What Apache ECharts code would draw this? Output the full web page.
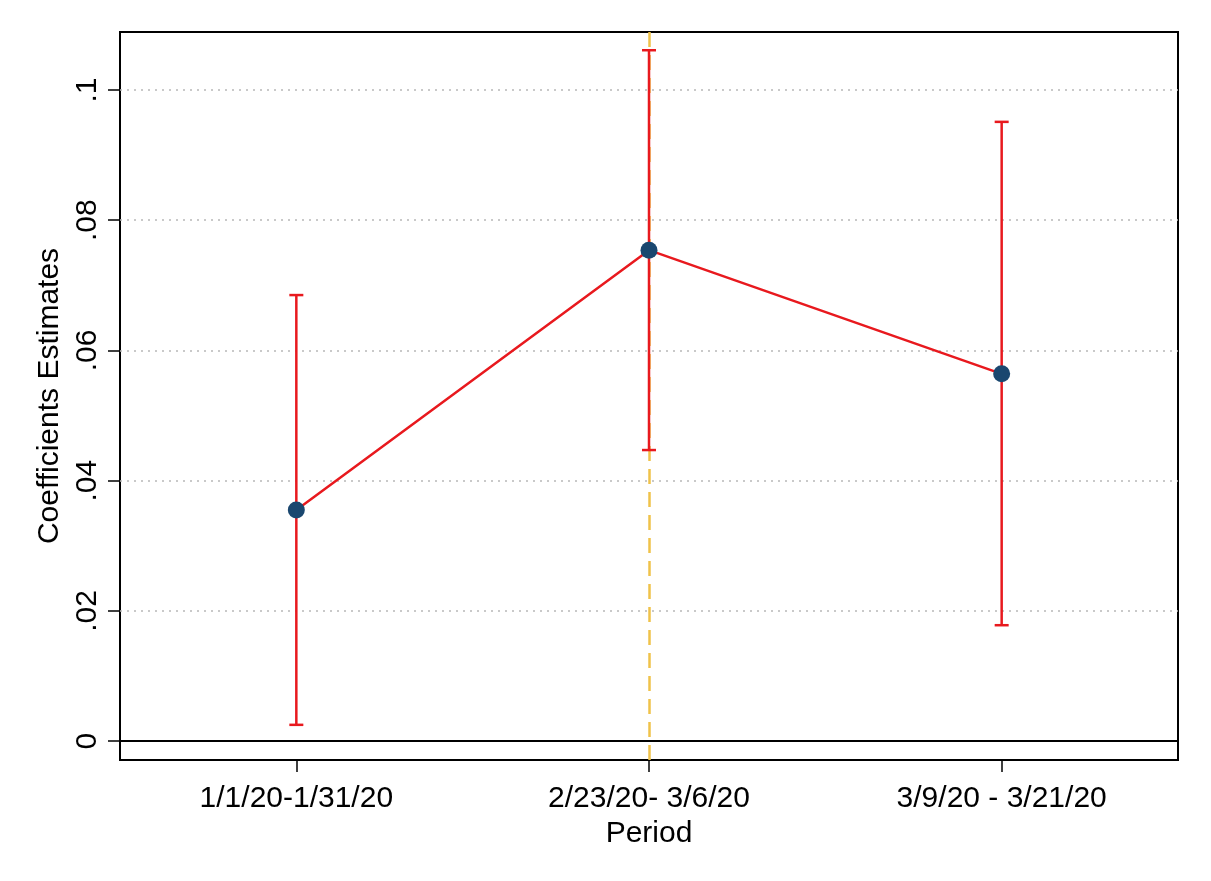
<!DOCTYPE html>
<html><head><meta charset="utf-8">
<script src="https://cdn.jsdelivr.net/npm/echarts@6/dist/echarts.min.js"></script>
<style>html,body{margin:0;padding:0;background:#fff}#c{width:1211px;height:881px}</style>
</head><body><div id="c"></div>
<script>
var categories = ['1/1/20-1/31/20', '2/23/20- 3/6/20', '3/9/20 - 3/21/20'];
var positions = [1, 2, 3];
var estimates = [0.0355, 0.0754, 0.0564];
var ciLower = [0.0025, 0.0447, 0.0178];
var ciUpper = [0.0685, 0.1061, 0.0951];
var yTicks = [0, 0.02, 0.04, 0.06, 0.08, 0.1];
var yTickLabels = ['0', '.02', '.04', '.06', '.08', '.1'];
var eventPosition = 2;

var FONT = 'Liberation Sans, Arial, sans-serif';
var RED = '#e8191e';
var chart = echarts.init(document.getElementById('c'));

var lineData = positions.map(function (p, i) { return [p, estimates[i]]; });
var ciData = positions.map(function (p, i) { return [p, ciLower[i], ciUpper[i]]; });

chart.setOption({
  animation: false,
  grid: { left: 120, right: 33, top: 32, bottom: 121, show: true, borderColor: '#000', borderWidth: 2, backgroundColor: 'transparent' },
  xAxis: {
    type: 'value', min: 0.5, max: 3.5,
    name: 'Period', nameLocation: 'middle', nameGap: 57,
    nameTextStyle: { fontFamily: FONT, fontSize: 30, color: '#000' },
    axisLine: { show: true, onZero: false, lineStyle: { color: '#000', width: 2 } },
    axisTick: { show: true, customValues: positions, length: 12, lineStyle: { color: '#000', width: 1.5 } },
    axisLabel: {
      customValues: positions, margin: 24, fontFamily: FONT, fontSize: 30, color: '#000',
      formatter: function (v) { var i = positions.indexOf(v); return i >= 0 ? categories[i] : ''; }
    },
    splitLine: { show: false }
  },
  yAxis: {
    type: 'value', min: -0.0029, max: 0.1089,
    name: 'Coefficients Estimates', nameLocation: 'middle', nameGap: 50, nameRotate: 90,
    nameTextStyle: { fontFamily: FONT, fontSize: 30, color: '#000' },
    axisLine: { show: true, onZero: false, lineStyle: { color: '#000', width: 2 } },
    axisTick: { show: true, customValues: yTicks, length: 12, lineStyle: { color: '#000', width: 1.5 } },
    axisLabel: {
      customValues: yTicks, rotate: 90, margin: 17, align: 'center', verticalAlign: 'bottom',
      fontFamily: FONT, fontSize: 30, color: '#000',
      formatter: function (v) {
        for (var i = 0; i < yTicks.length; i++) { if (Math.abs(yTicks[i] - v) < 1e-9) return yTickLabels[i]; }
        return '';
      }
    },
    splitLine: { show: false }
  },
  series: [
    {
      type: 'line', data: [], silent: true, z: 1,
      markLine: {
        z: 1, silent: true, symbol: 'none', label: { show: false }, animation: false,
        data: yTicks.filter(function (t) { return t > 0; }).map(function (t) {
          return { yAxis: t, lineStyle: { color: '#b8b8b8', type: [2, 5], width: 1.5 } };
        }).concat([
          { xAxis: eventPosition, lineStyle: { color: '#f0c24a', type: [15, 8], width: 2.5 } }
        ])
      }
    },
    {
      type: 'custom', z: 6, silent: true,
      data: ciData,
      renderItem: function (params, api) {
        var x = api.value(0);
        var lo = api.coord([x, api.value(1)]);
        var hi = api.coord([x, api.value(2)]);
        var w = 7;
        var st = { stroke: RED, lineWidth: 2.5 };
        return {
          type: 'group', children: [
            { type: 'line', shape: { x1: lo[0], y1: lo[1], x2: hi[0], y2: hi[1] }, style: st },
            { type: 'line', shape: { x1: lo[0] - w, y1: lo[1], x2: lo[0] + w, y2: lo[1] }, style: st },
            { type: 'line', shape: { x1: hi[0] - w, y1: hi[1], x2: hi[0] + w, y2: hi[1] }, style: st }
          ]
        };
      }
    },
    {
      type: 'line', z: 7, data: [], silent: true,
      markLine: {
        z: 7, silent: true, symbol: 'none', label: { show: false },
        data: [{ yAxis: 0, lineStyle: { color: '#000', type: 'solid', width: 2 } }]
      }
    },
    {
      type: 'line', z: 8, data: lineData, silent: true,
      lineStyle: { color: RED, width: 2.5 },
      symbol: 'circle', symbolSize: 17,
      itemStyle: { color: '#1a476f', borderWidth: 0 }
    }
  ]
});
</script>
</body></html>
